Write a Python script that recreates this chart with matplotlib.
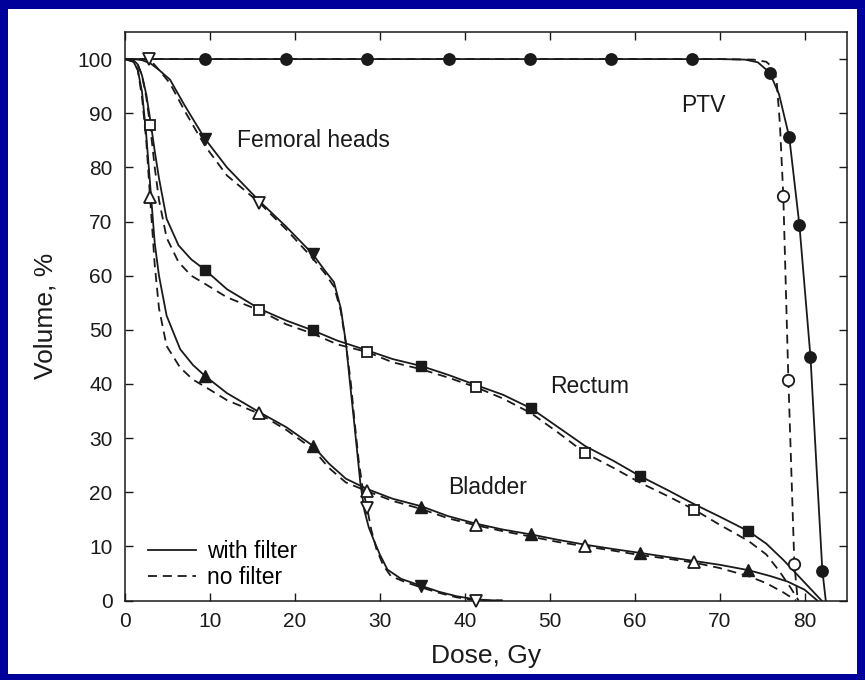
import matplotlib.pyplot as plt
from matplotlib.patches import Rectangle
from matplotlib.lines import Line2D

plt.rcParams['font.family'] = ['Liberation Sans', 'DejaVu Sans']

ink = '#1a1a1a'

# PTV
ptv_x_filter = [0, 10, 20, 30, 40, 50, 60, 70, 73, 74.5, 75.9, 77, 78.2, 79.4, 80.7, 81.4, 82.1, 82.5]
ptv_y_filter = [100, 100, 100, 100, 100, 100, 100, 100, 99.9, 99.4, 97.5, 93.5, 85.6, 69.3, 45.0, 25, 5.5, 0]
ptv_x_nofilter = [0, 10, 20, 30, 40, 50, 60, 70, 74, 75.5, 76.2, 76.7, 77.1, 77.5, 78.1, 78.8, 79.2]
ptv_y_nofilter = [100, 100, 100, 100, 100, 100, 100, 100, 99.9, 99.5, 98.5, 96.4, 88, 74.8, 40.7, 6.8, 0]
ptv_mk_filled_x = [9.4, 19.0, 28.5, 38.1, 47.7, 57.2, 66.8, 75.9, 78.2, 79.4, 80.7, 82.1]
ptv_mk_filled_y = [100, 100, 100, 100, 100, 100, 100, 97.5, 85.6, 69.3, 45.0, 5.5]
ptv_mk_open_x = [77.5, 78.1, 78.8]
ptv_mk_open_y = [74.8, 40.7, 6.8]

# Femoral heads
fem_x_filter = [0, 1, 2, 3, 4, 5.3, 7, 9.4, 12, 15.8, 19, 22.1, 23.5, 24.6, 25.4, 26.0, 26.5,
                26.9, 27.3, 27.7, 28.2, 28.7, 29.2, 30.0, 30.9, 32.5, 34.9, 37, 39, 41.3, 43, 44.4]
fem_y_filter = [100, 100, 99.8, 99.2, 98, 96.2, 91.5, 85.3, 80, 73.8, 69, 64.0, 61, 58.8, 54, 47.7, 40,
                34.1, 28, 21.8, 16.5, 13.5, 11.5, 8.5, 5.7, 4.0, 2.7, 1.6, 0.8, 0.2, 0.05, 0]
fem_x_nofilter = [0, 2, 3.0, 4, 5.3, 7, 9.4, 12, 15.8, 19, 22.1, 23.5, 24.6, 25.4, 26.0, 26.6, 27.0,
                  27.5, 28.0, 28.5, 29.0, 29.6, 30.4, 31.3, 33, 34.9, 37, 39, 41.3, 43, 44.4]
fem_y_nofilter = [100, 100, 99.8, 98, 95.5, 90.5, 84, 78.5, 73.5, 68.5, 63.2, 60.5, 58, 53.5, 47.5, 40, 33.5,
                  26, 20.5, 17.1, 13, 9.5, 6.5, 4.5, 3.4, 2.4, 1.4, 0.6, 0, 0, 0]
fem_mk_filled_x = [9.4, 22.1, 34.9]
fem_mk_filled_y = [85.3, 64.0, 2.7]
fem_mk_open_x = [2.8, 15.8, 28.5, 41.3]
fem_mk_open_y = [100, 73.5, 17.1, 0]

# Rectum
rec_x_filter = [0, 1.0, 1.5, 2.0, 2.5, 3.0, 3.5, 4.0, 4.9, 6.3, 7.8, 9.4, 12, 15.8, 19, 22.1, 25, 28.5,
                31.5, 34.9, 38, 41.3, 44.5, 47.8, 51, 54.2, 57.5, 60.6, 64, 67, 70, 73.4, 75.5, 77.5,
                79.3, 80.8, 82.0]
rec_y_filter = [100, 99.8, 99, 97, 93.5, 88.5, 83, 78, 70.5, 65.6, 63, 61.1, 57.5, 53.9, 51.7, 49.9, 48, 46.2,
                44.6, 43.3, 41.7, 39.8, 38, 35.5, 32, 28.5, 25.8, 23.0, 20.3, 17.8, 15.5, 12.8, 10.5, 7.5,
                4.5, 2, 0]
rec_x_nofilter = [0, 1.0, 1.5, 2.0, 2.5, 2.95, 3.5, 4.0, 4.9, 6.3, 7.8, 9.4, 12, 15.8, 19, 22.1, 25, 28.5,
                  31.5, 34.9, 38, 41.3, 44.5, 47.8, 51, 54.2, 57.5, 60.6, 64, 67, 70, 73.4, 75.5, 77,
                  78.3, 79.3]
rec_y_nofilter = [100, 99.8, 99, 97, 93, 87.8, 80, 74, 67, 62.5, 60, 58.5, 56, 53.6, 51, 49.3, 47.3, 45.9,
                  44, 42.7, 41.2, 39.4, 37.3, 34.6, 31, 27.2, 24.5, 21.8, 19.2, 16.8, 14, 11, 8.5, 5.5,
                  2.5, 0]
rec_mk_filled_x = [9.4, 22.1, 34.9, 47.8, 60.6, 73.4]
rec_mk_filled_y = [61.1, 49.9, 43.3, 35.5, 23.0, 12.8]
rec_mk_open_x = [2.95, 15.8, 28.5, 41.3, 54.2, 67.0]
rec_mk_open_y = [87.8, 53.6, 45.9, 39.4, 27.2, 16.8]

# Bladder
bla_x_filter = [0, 1.0, 1.5, 2.0, 2.5, 3.0, 3.5, 4.0, 4.9, 6.5, 8, 9.4, 12, 15.8, 19, 22.1, 24, 26, 28.5,
                31.5, 34.9, 38, 41.3, 44.5, 47.8, 51, 54.2, 57.5, 60.6, 64, 67, 70, 73.4, 76, 78, 80, 81.5]
bla_y_filter = [100, 99.5, 98, 94, 86, 76, 66, 60, 52.6, 46.4, 43.5, 41.5, 38.3, 34.8, 32, 28.6, 25.3, 22.5,
                20.6, 18.8, 17.4, 15.6, 14.2, 13.1, 12.2, 11.2, 10.3, 9.5, 8.8, 8.0, 7.3, 6.6, 5.6, 4.5,
                3.5, 2, 0]
bla_x_nofilter = [0, 1.0, 1.5, 2.0, 2.5, 2.95, 3.5, 4.0, 4.9, 6.5, 8, 9.4, 12, 15.8, 19, 22.1, 24, 26, 28.5,
                  31.5, 34.9, 38, 41.3, 44.5, 47.8, 51, 54.2, 57.5, 60.6, 64, 67, 70, 73.4, 75.5, 77.5, 79]
bla_y_nofilter = [100, 99.5, 98, 93, 85, 74.5, 62, 54, 47, 43, 40.8, 39.5, 37, 34.5, 31.5, 28, 24.5, 21.8,
                  20.2, 18.4, 16.9, 15.2, 13.9, 12.8, 11.8, 10.8, 10.0, 9.2, 8.4, 7.7, 7.0, 6.0, 4.5, 3.2,
                  1.5, 0]
bla_mk_filled_x = [9.4, 22.1, 34.9, 47.8, 60.6, 73.4]
bla_mk_filled_y = [41.5, 28.6, 17.3, 12.2, 8.8, 5.6]
bla_mk_open_x = [2.95, 15.8, 28.5, 41.3, 54.2, 67.0]
bla_mk_open_y = [74.5, 34.6, 20.2, 14.0, 10.0, 7.2]

# labels
organ_labels = ['PTV', 'Femoral heads', 'Rectum', 'Bladder']
label_x = [65.5, 13.2, 50.0, 38.0]
label_y = [91.5, 85.0, 39.5, 20.8]

fig = plt.figure(figsize=(8.65, 6.8), dpi=100, facecolor='#00009a')
fig.patches.append(Rectangle((8 / 865, 6 / 680), 849 / 865, 665 / 680, transform=fig.transFigure,
                             facecolor='white', edgecolor='none', zorder=-10))
ax = fig.add_axes([125 / 865, 79.5 / 680, 722 / 865, 568.5 / 680])

lw = 1.3
dash = (5, 3.2)
curves = [
    (ptv_x_filter, ptv_y_filter, ptv_x_nofilter, ptv_y_nofilter),
    (fem_x_filter, fem_y_filter, fem_x_nofilter, fem_y_nofilter),
    (rec_x_filter, rec_y_filter, rec_x_nofilter, rec_y_nofilter),
    (bla_x_filter, bla_y_filter, bla_x_nofilter, bla_y_nofilter),
]
for xs, ys, xd, yd in curves:
    ax.plot(xs, ys, color=ink, lw=lw, zorder=2)
    ax.plot(xd, yd, color=ink, lw=lw, dashes=dash, zorder=2)

markers = [
    ('o', 8.2, ptv_mk_filled_x, ptv_mk_filled_y, ptv_mk_open_x, ptv_mk_open_y),
    ('v', 8.5, fem_mk_filled_x, fem_mk_filled_y, fem_mk_open_x, fem_mk_open_y),
    ('s', 7, rec_mk_filled_x, rec_mk_filled_y, rec_mk_open_x, rec_mk_open_y),
    ('^', 8.5, bla_mk_filled_x, bla_mk_filled_y, bla_mk_open_x, bla_mk_open_y),
]
for m, ms, fx, fy, ox, oy in markers:
    ax.plot(fx, fy, ls='none', marker=m, ms=ms, mfc=ink, mec=ink, mew=1.0, zorder=4, clip_on=False)
    ax.plot(ox, oy, ls='none', marker=m, ms=ms, mfc='white', mec=ink, mew=1.3, zorder=4, clip_on=False)

for txt, tx, ty in zip(organ_labels, label_x, label_y):
    ax.text(tx, ty, txt, fontsize=16.5, color=ink, ha='left', va='center')

handles = [Line2D([], [], color=ink, lw=lw), Line2D([], [], color=ink, lw=lw, dashes=dash)]
ax.legend(handles, ['with filter', 'no filter'], loc='lower left', bbox_to_anchor=(0.032, 0.02),
          frameon=False, fontsize=16.5, handlelength=2.1, handletextpad=0.45, labelspacing=0.15,
          borderaxespad=0, borderpad=0)

ax.set_xlim(0, 85)
ax.set_ylim(0, 105)
ax.set_xticks(range(0, 81, 10))
ax.set_yticks(range(0, 101, 10))
ax.tick_params(direction='in', top=True, right=True, length=6, width=1, labelsize=15,
               labelcolor=ink, color=ink)
ax.tick_params(axis='x', pad=8)
ax.tick_params(axis='y', pad=9)
for s in ax.spines.values():
    s.set_color(ink)
    s.set_linewidth(1.1)

ax.set_xlabel('Dose, Gy', fontsize=19, color=ink, labelpad=10)
ax.set_ylabel('Volume, %', fontsize=19, color=ink, labelpad=14)

fig.savefig('out.png', dpi=100, facecolor=fig.get_facecolor())
